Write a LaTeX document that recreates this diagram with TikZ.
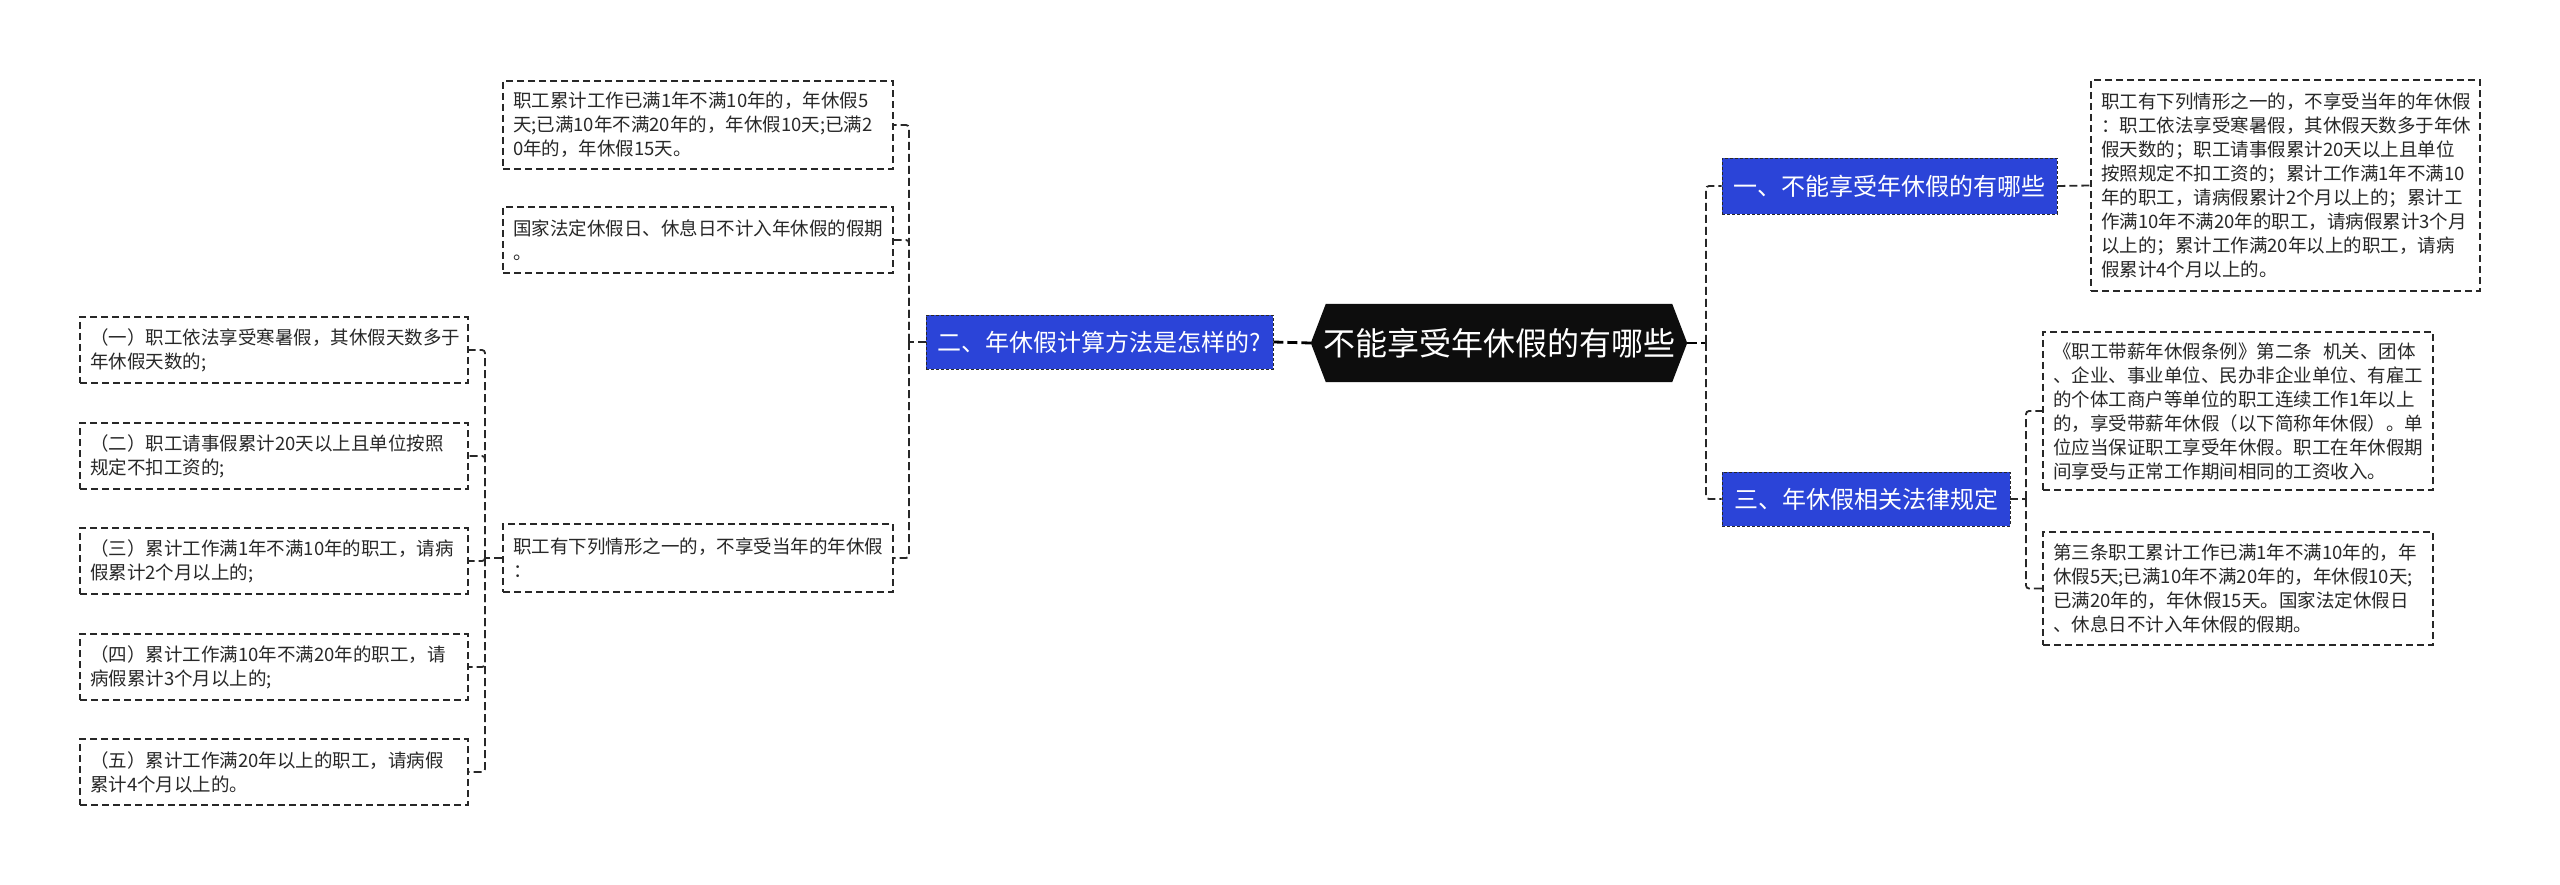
\documentclass[tikz,border=0pt]{standalone}
\usepackage{fontspec}
\setmainfont{Noto Sans CJK SC}
\usetikzlibrary{backgrounds}
\definecolor{bblue}{RGB}{43,68,216}
\definecolor{ink}{RGB}{40,40,40}
\begin{document}
\begin{tikzpicture}[x=1pt,y=-1pt,
  leaf/.style={draw=ink, line width=1.5pt, dash pattern=on 7pt off 4pt, align=left,
    inner xsep=10pt, inner ysep=0pt, font=\fontsize{18.5}{24}\selectfont, text=ink},
  branch/.style={fill=bblue, draw=ink, line width=0.8pt, dash pattern=on 3pt off 2pt,
    text=white, font=\fontsize{24}{28}\selectfont, inner sep=0pt},
  conn/.style={draw=ink, line width=1.8pt, dash pattern=on 8pt off 4pt, rounded corners=3pt},
  cconn/.style={draw=black, line width=2.8pt, dash pattern=on 10pt off 4pt}]
\begin{scope}[on background layer]
  \fill[white] (0,0) rectangle (2560,885);
\end{scope}
\useasboundingbox (0,0) rectangle (2560,885);

% central node
\node[minimum width=376pt, minimum height=78pt, inner sep=0pt] (c) at (1499,343) {};
\begin{scope}[on background layer]
  \fill[black!95] (c.west) -- ([xshift=15pt]c.north west) -- ([xshift=-15pt]c.north east)
    -- (c.east) -- ([xshift=-15pt]c.south east) -- ([xshift=15pt]c.south west) -- cycle;
\end{scope}
\node[text=white, font=\fontsize{32}{36}\selectfont, inner sep=0pt] (ct) at (c.center) {不能享受年休假的有哪些};

% branches
\node[branch, minimum width=347pt, minimum height=54pt] (b2) at (1099.5,342) {二、年休假计算方法是怎样的?};
\node[branch, minimum width=335pt, minimum height=56pt] (b1) at (1889.5,186) {一、不能享受年休假的有哪些};
\node[branch, minimum width=288pt, minimum height=54pt] (b3) at (1866,499) {三、年休假相关法律规定};

% right leaves
\node[leaf, text width=369pt, minimum height=211pt] (R1) at (2285.5,185.5) {职工有下列情形之一的，不享受当年的年休假\\：职工依法享受寒暑假，其休假天数多于年休\\假天数的；职工请事假累计20天以上且单位\\按照规定不扣工资的；累计工作满1年不满10\\年的职工，请病假累计2个月以上的；累计工\\作满10年不满20年的职工，请病假累计3个月\\以上的；累计工作满20年以上的职工，请病\\假累计4个月以上的。};
\node[leaf, text width=370pt, minimum height=158pt] (R2) at (2238,411) {《职工带薪年休假条例》第二条\hspace{0.6em}机关、团体\\、企业、事业单位、民办非企业单位、有雇工\\的个体工商户等单位的职工连续工作1年以上\\的，享受带薪年休假（以下简称年休假）。单\\位应当保证职工享受年休假。职工在年休假期\\间享受与正常工作期间相同的工资收入。};
\node[leaf, text width=370pt, minimum height=113pt] (R3) at (2238,588.5) {第三条职工累计工作已满1年不满10年的，年\\休假5天;已满10年不满20年的，年休假10天;\\已满20年的，年休假15天。国家法定休假日\\、休息日不计入年休假的假期。};

% left leaves
\node[leaf, text width=370pt, minimum height=88pt] (L1) at (698,125) {职工累计工作已满1年不满10年的，年休假5\\天;已满10年不满20年的，年休假10天;已满2\\0年的，年休假15天。};
\node[leaf, text width=370pt, minimum height=66pt] (L2) at (698,240) {国家法定休假日、休息日不计入年休假的假期\\。};
\node[leaf, text width=370pt, minimum height=68pt] (L3) at (698,558) {职工有下列情形之一的，不享受当年的年休假\\：};

% far-left leaves
\node[leaf, text width=368pt, minimum height=66pt] (F1) at (274,350) {（一）职工依法享受寒暑假，其休假天数多于\\年休假天数的;};
\node[leaf, text width=368pt, minimum height=66pt] (F2) at (274,456) {（二）职工请事假累计20天以上且单位按照\\规定不扣工资的;};
\node[leaf, text width=368pt, minimum height=66pt] (F3) at (274,561) {（三）累计工作满1年不满10年的职工，请病\\假累计2个月以上的;};
\node[leaf, text width=368pt, minimum height=66pt] (F4) at (274,667) {（四）累计工作满10年不满20年的职工，请\\病假累计3个月以上的;};
\node[leaf, text width=368pt, minimum height=66pt] (F5) at (274,772) {（五）累计工作满20年以上的职工，请病假\\累计4个月以上的。};

% junctions
\coordinate (jr) at (1706,343);
\coordinate (jl) at (909,342);
\coordinate (jf) at (485,558);
\coordinate (j3) at (2026,499);

% connectors
\draw[cconn] (b2.east) -- (c.west);
\draw[cconn] (c.east) -- (jr);
\draw[conn] (jr) |- (b1.west);
\draw[conn] (jr) |- (b3.west);
\draw[conn] (b1.east) -- (R1.west);
\draw[conn] (b3.east) -- (j3);
\draw[conn] (j3) |- (R2.west);
\draw[conn] (j3) |- (R3.west);
\draw[conn] (b2.west) -- (jl);
\draw[conn] (jl) |- (L1.east);
\draw[conn] (jl) |- (L2.east);
\draw[conn] (jl) |- (L3.east);
\draw[conn] (L3.west) -- (jf);
\draw[conn] (jf) |- (F1.east);
\draw[conn] (jf) |- (F2.east);
\draw[conn] (jf) |- (F3.east);
\draw[conn] (jf) |- (F4.east);
\draw[conn] (jf) |- (F5.east);
\end{tikzpicture}
\end{document}
